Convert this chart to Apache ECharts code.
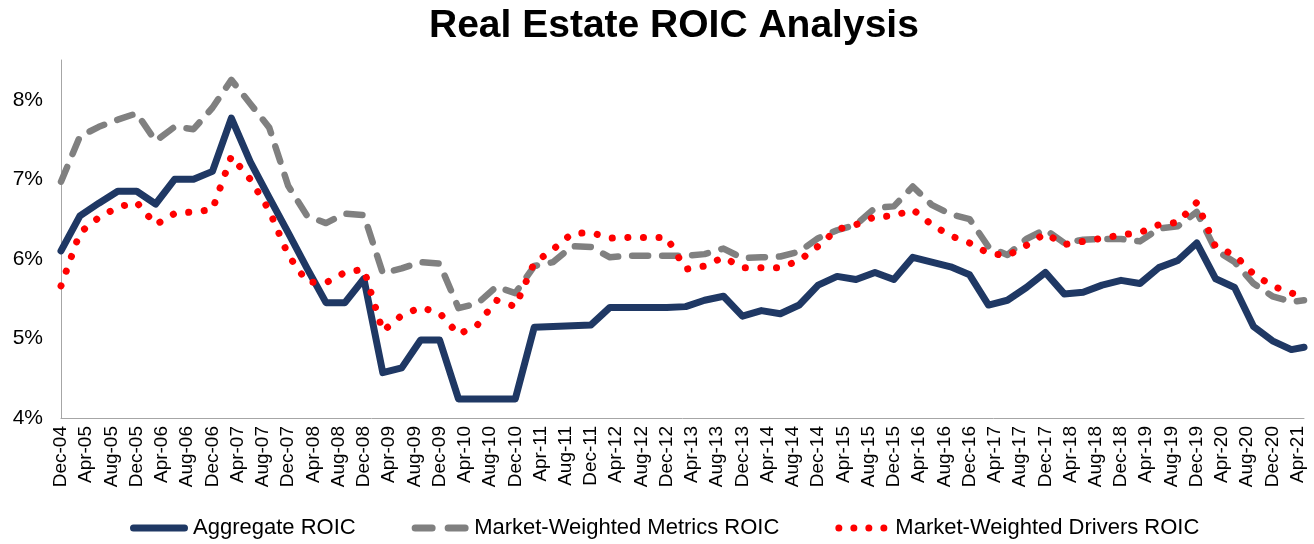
<!DOCTYPE html>
<html>
<head>
<meta charset="utf-8">
<title>Real Estate ROIC Analysis</title>
<script src="https://cdn.jsdelivr.net/npm/echarts@6/dist/echarts.min.js"></script>
<style>
  html, body { margin: 0; padding: 0; background: #ffffff; }
  #chart { width: 1314px; height: 544px; }
</style>
</head>
<body>
<div id="chart"></div>
<script>
// Quarter-end observation dates (last point is the latest reading)
const dates = [
  'Dec-04','Mar-05','Jun-05','Sep-05','Dec-05','Mar-06','Jun-06','Sep-06',
  'Dec-06','Mar-07','Jun-07','Sep-07','Dec-07','Mar-08','Jun-08','Sep-08',
  'Dec-08','Mar-09','Jun-09','Sep-09','Dec-09','Mar-10','Jun-10','Sep-10',
  'Dec-10','Mar-11','Jun-11','Sep-11','Dec-11','Mar-12','Jun-12','Sep-12',
  'Dec-12','Mar-13','Jun-13','Sep-13','Dec-13','Mar-14','Jun-14','Sep-14',
  'Dec-14','Mar-15','Jun-15','Sep-15','Dec-15','Mar-16','Jun-16','Sep-16',
  'Dec-16','Mar-17','Jun-17','Sep-17','Dec-17','Mar-18','Jun-18','Sep-18',
  'Dec-18','Mar-19','Jun-19','Sep-19','Dec-19','Mar-20','Jun-20','Sep-20',
  'Dec-20','Mar-21','May-21'
];

// ROIC, percent
const aggregateROIC = [
  6.10, 6.54, 6.70, 6.85, 6.85, 6.69, 7.00, 7.00,
  7.10, 7.77, 7.22, 6.77, 6.33, 5.88, 5.45, 5.45,
  5.75, 4.57, 4.63, 4.98, 4.98, 4.24, 4.24, 4.24,
  4.24, 5.14, 5.15, 5.16, 5.17, 5.39, 5.39, 5.39,
  5.39, 5.40, 5.48, 5.53, 5.28, 5.35, 5.31, 5.42,
  5.67, 5.78, 5.74, 5.83, 5.74, 6.02, 5.96, 5.90,
  5.80, 5.42, 5.48, 5.64, 5.83, 5.56, 5.58, 5.67,
  5.73, 5.69, 5.89, 5.98, 6.20, 5.75, 5.64, 5.15,
  4.97, 4.86, 4.89
];

const metricsROIC = [
  6.97, 7.54, 7.66, 7.75, 7.83, 7.48, 7.66, 7.63,
  7.90, 8.25, 7.95, 7.65, 6.92, 6.54, 6.45, 6.57,
  6.55, 5.82, 5.88, 5.96, 5.94, 5.38, 5.44, 5.65,
  5.57, 5.91, 5.96, 6.16, 6.15, 6.02, 6.04, 6.04,
  6.04, 6.04, 6.06, 6.13, 6.01, 6.02, 6.03, 6.09,
  6.26, 6.36, 6.43, 6.64, 6.66, 6.91, 6.68, 6.56,
  6.50, 6.15, 6.05, 6.25, 6.37, 6.20, 6.24, 6.25,
  6.25, 6.22, 6.38, 6.41, 6.59, 6.11, 5.96, 5.69,
  5.53, 5.46, 5.48
];

const driversROIC = [
  5.66, 6.33, 6.52, 6.65, 6.71, 6.43, 6.57, 6.59,
  6.62, 7.29, 7.00, 6.61, 6.05, 5.71, 5.70, 5.83,
  5.87, 5.09, 5.29, 5.39, 5.32, 5.05, 5.17, 5.48,
  5.40, 5.95, 6.12, 6.32, 6.33, 6.26, 6.27, 6.27,
  6.27, 5.87, 5.91, 6.02, 5.89, 5.89, 5.89, 5.98,
  6.16, 6.37, 6.43, 6.53, 6.54, 6.62, 6.43, 6.29,
  6.20, 6.07, 6.04, 6.17, 6.32, 6.18, 6.22, 6.26,
  6.30, 6.33, 6.43, 6.46, 6.71, 6.15, 6.05, 5.81,
  5.66, 5.57, 5.53
];

// Monthly axis from the first to the last observation; every 4th month labelled
const MONTHS = ['Jan','Feb','Mar','Apr','May','Jun','Jul','Aug','Sep','Oct','Nov','Dec'];
const axisStart = { year: 2004, month: 11 };
const axisEnd = { year: 2021, month: 4 };
const months = [];
for (let y = axisStart.year, m = axisStart.month; y < axisEnd.year || (y === axisEnd.year && m <= axisEnd.month); ) {
  months.push(MONTHS[m] + '-' + String(y % 100).padStart(2, '0'));
  m++; if (m > 11) { m = 0; y++; }
}
const yTicks = [4, 5, 6, 7, 8];

const pairs = vals => dates.map((d, i) => [d, vals[i]]);

// Legend swatches echoing each series' stroke: solid bar, two dashes, four dots
const ICON_SOLID = 'path://M3.5,0L54.5,0A3.5,3.5 0 0 1 54.5,7L3.5,7A3.5,3.5 0 0 1 3.5,0Z';
const ICON_DASH = 'path://M3.5,0L20.5,0A3.5,3.5 0 0 1 20.5,7L3.5,7A3.5,3.5 0 0 1 3.5,0Z' +
  'M36.5,0L53.5,0A3.5,3.5 0 0 1 53.5,7L36.5,7A3.5,3.5 0 0 1 36.5,0Z';
const ICON_DOT = 'path://M0,3.5A3.5,3.5 0 1 0 7,3.5A3.5,3.5 0 1 0 0,3.5Z' +
  'M15,3.5A3.5,3.5 0 1 0 22,3.5A3.5,3.5 0 1 0 15,3.5Z' +
  'M30,3.5A3.5,3.5 0 1 0 37,3.5A3.5,3.5 0 1 0 30,3.5Z' +
  'M45,3.5A3.5,3.5 0 1 0 52,3.5A3.5,3.5 0 1 0 45,3.5Z';

const chart = echarts.init(document.getElementById('chart'), null, { renderer: 'canvas' });
const font = 'Arial, "Liberation Sans", sans-serif';

chart.setOption({
  animation: false,
  backgroundColor: '#ffffff',
  title: {
    text: 'Real Estate ROIC Analysis',
    left: 424,
    top: 2,
    textStyle: { fontFamily: font, fontSize: 39, fontWeight: 'bold', color: '#000000' }
  },
  grid: { left: 61, right: 10, top: 60, bottom: 126, containLabel: false },
  legend: {
    bottom: 0,
    left: 125,
    itemWidth: 58,
    itemHeight: 7,
    itemGap: 56,
    symbolKeepAspect: true,
    itemStyle: { borderWidth: 0 },
    textStyle: { fontFamily: font, fontSize: 22, color: '#000000' },
    data: [
      { name: 'Aggregate ROIC', icon: ICON_SOLID },
      { name: 'Market-Weighted Metrics ROIC', icon: ICON_DASH },
      { name: 'Market-Weighted Drivers ROIC', icon: ICON_DOT }
    ]
  },
  xAxis: {
    type: 'category',
    data: months,
    boundaryGap: false,
    axisLine: { lineStyle: { color: '#a6a6a6', width: 1 } },
    axisTick: { show: false },
    axisLabel: {
      rotate: 90,
      interval: i => i % 4 === 0,
      margin: 8,
      fontFamily: font,
      fontSize: 19,
      color: '#000000'
    },
    splitLine: { show: false }
  },
  yAxis: {
    type: 'value',
    min: yTicks[0],
    max: 8.5,
    interval: 1,
    axisLine: { show: true, lineStyle: { color: '#a6a6a6', width: 1 } },
    axisTick: { show: false },
    splitLine: { show: false },
    axisLabel: {
      showMaxLabel: false,
      margin: 18,
      fontFamily: font,
      fontSize: 21,
      color: '#000000',
      formatter: v => (yTicks.indexOf(v) >= 0 ? v + '%' : '')
    }
  },
  series: [
    {
      name: 'Aggregate ROIC',
      type: 'line',
      data: pairs(aggregateROIC),
      symbol: 'none',
      z: 3,
      itemStyle: { color: '#1f3864' },
      lineStyle: { color: '#1f3864', width: 7, join: 'round', cap: 'round' }
    },
    {
      name: 'Market-Weighted Metrics ROIC',
      type: 'line',
      data: pairs(metricsROIC),
      symbol: 'none',
      z: 2,
      itemStyle: { color: '#808080' },
      lineStyle: { color: '#808080', width: 6.5, type: [16, 14], cap: 'round', join: 'round' }
    },
    {
      name: 'Market-Weighted Drivers ROIC',
      type: 'line',
      data: pairs(driversROIC),
      symbol: 'none',
      z: 4,
      itemStyle: { color: '#ff0000' },
      lineStyle: { color: '#ff0000', width: 7, type: [0.1, 15.5], cap: 'round', join: 'round' }
    }
  ]
});
</script>
</body>
</html>
